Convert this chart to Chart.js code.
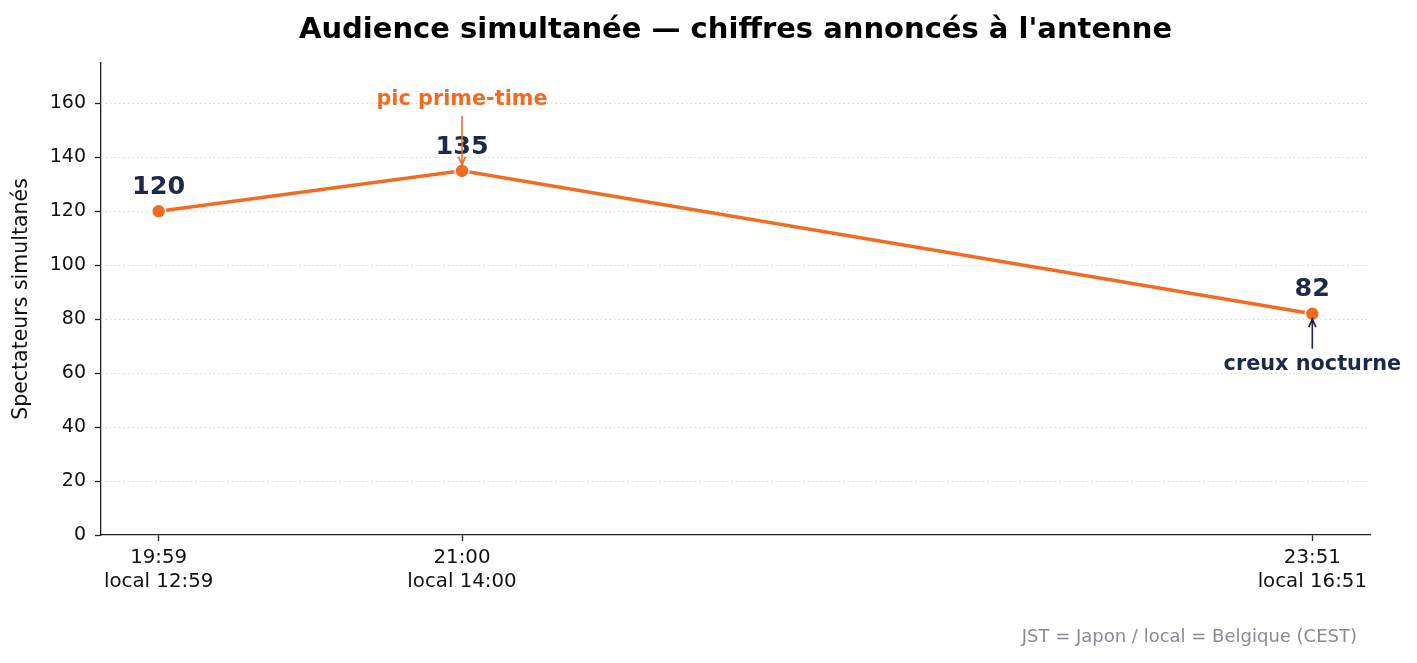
<!DOCTYPE html>
<html>
<head>
<meta charset="utf-8">
<script src="https://cdn.jsdelivr.net/npm/chart.js@4"></script>
<style>
  html, body { margin: 0; padding: 0; background: #fff; }
  #wrap { width: 1417px; height: 663px; }
</style>
</head>
<body>
<div id="wrap"><canvas id="audienceChart" width="1417" height="663"></canvas></div>
<script>
// minutes after 19:59 (JST)
var minutes = [0, 61, 232];
var viewers = [120, 135, 82];
var tickJst = ['19:59', '21:00', '23:51'];
var tickLocal = ['local 12:59', 'local 14:00', 'local 16:51'];
var yTicks = [0, 20, 40, 60, 80, 100, 120, 140, 160];

var FONT = "'DejaVu Sans', sans-serif";
var ORANGE = '#f26b21';
var NAVY = '#1b2a4a';
var AXIS = '#222222';

var extrasPlugin = {
    id: 'extras',
    beforeDatasetsDraw: function (chart) {
        var ctx = chart.ctx;
        var area = chart.chartArea;
        var y = chart.scales.y;
        ctx.save();
        ctx.strokeStyle = '#d6d6d6';
        ctx.lineWidth = 1;
        ctx.setLineDash([1.5, 3]);
        for (var i = 1; i < yTicks.length; i++) {
            var py = Math.round(y.getPixelForValue(yTicks[i])) + 0.5;
            ctx.beginPath();
            ctx.moveTo(area.left, py);
            ctx.lineTo(area.right, py);
            ctx.stroke();
        }
        ctx.restore();
    },
    afterDatasetsDraw: function (chart) {
        var ctx = chart.ctx;
        var area = chart.chartArea;
        var meta = chart.getDatasetMeta(0);
        ctx.save();

        // value labels
        ctx.fillStyle = NAVY;
        ctx.font = 'bold 25.5px ' + FONT;
        ctx.textAlign = 'center';
        ctx.textBaseline = 'middle';
        for (var i = 0; i < viewers.length; i++) {
            var pt = meta.data[i];
            ctx.fillText(String(viewers[i]), pt.x, pt.y - 24);
        }

        // peak annotation
        var peak = meta.data[1];
        ctx.font = 'bold 20.8px ' + FONT;
        ctx.fillStyle = ORANGE;
        ctx.fillText('pic prime-time', peak.x, peak.y - 71);
        drawArrow(ctx, peak.x, peak.y - 55, peak.x, peak.y - 6, ORANGE);

        // trough annotation
        var low = meta.data[2];
        ctx.fillStyle = NAVY;
        ctx.fillText('creux nocturne', low.x, low.y + 51);
        drawArrow(ctx, low.x, low.y + 35, low.x, low.y + 5, NAVY);

        // title
        ctx.fillStyle = '#000';
        ctx.font = 'bold 29px ' + FONT;
        ctx.fillText("Audience simultanée \u2014 chiffres annoncés à l'antenne", (area.left + area.right) / 2, 30);

        // y axis title
        ctx.save();
        ctx.translate(22, (area.top + area.bottom) / 2);
        ctx.rotate(-Math.PI / 2);
        ctx.font = '20.5px ' + FONT;
        ctx.fillStyle = '#111';
        ctx.fillText('Spectateurs simultanés', 0, 0);
        ctx.restore();

        // footnote
        ctx.font = '18px ' + FONT;
        ctx.fillStyle = '#8a8a96';
        ctx.textAlign = 'right';
        ctx.fillText('JST = Japon / local = Belgique (CEST)', 1357, 637);

        ctx.restore();
    }
};

function drawArrow(ctx, x1, y1, x2, y2, color) {
    var ang = Math.atan2(y2 - y1, x2 - x1);
    var head = 9;
    ctx.save();
    ctx.strokeStyle = color;
    ctx.lineWidth = 1.6;
    ctx.beginPath();
    ctx.moveTo(x1, y1);
    ctx.lineTo(x2, y2);
    ctx.moveTo(x2 - head * Math.cos(ang - 0.4), y2 - head * Math.sin(ang - 0.4));
    ctx.lineTo(x2, y2);
    ctx.lineTo(x2 - head * Math.cos(ang + 0.4), y2 - head * Math.sin(ang + 0.4));
    ctx.stroke();
    ctx.restore();
}

var points = [];
for (var i = 0; i < minutes.length; i++) {
    points.push({ x: minutes[i], y: viewers[i] });
}

var ctx = document.getElementById('audienceChart');
var myChart = new Chart(ctx, {
    type: 'line',
    data: {
        datasets: [{
            data: points,
            borderColor: ORANGE,
            borderWidth: 3.5,
            pointRadius: 7,
            pointHoverRadius: 7,
            pointBackgroundColor: ORANGE,
            pointBorderColor: '#ffffff',
            pointBorderWidth: 1.5,
            tension: 0
        }]
    },
    options: {
        responsive: false,
        animation: false,
        devicePixelRatio: 1,
        layout: { padding: { left: 0, right: 47, top: 63, bottom: 0 } },
        plugins: {
            legend: { display: false },
            tooltip: { enabled: false },
            title: { display: false }
        },
        scales: {
            x: {
                type: 'linear',
                min: -11.6,
                max: 243.6,
                afterBuildTicks: function (axis) {
                    axis.ticks = minutes.map(function (m) { return { value: m }; });
                },
                afterFit: function (axis) { axis.height = 128; },
                ticks: {
                    autoSkip: false,
                    maxRotation: 0,
                    color: '#111',
                    font: { family: FONT, size: 19.8 },
                    padding: 5,
                    callback: function (value) {
                        var idx = minutes.indexOf(value);
                        return idx < 0 ? '' : [tickJst[idx], tickLocal[idx]];
                    }
                },
                grid: {
                    drawOnChartArea: false,
                    drawTicks: true,
                    tickLength: 6,
                    tickColor: AXIS,
                    tickWidth: 1.3
                },
                border: { display: true, color: AXIS, width: 1.3 }
            },
            y: {
                min: 0,
                max: 175,
                afterBuildTicks: function (axis) {
                    axis.ticks = yTicks.map(function (v) { return { value: v }; });
                },
                afterFit: function (axis) { axis.width = 101; },
                ticks: {
                    color: '#111',
                    font: { family: FONT, size: 19 },
                    padding: 9
                },
                grid: {
                    drawOnChartArea: false,
                    drawTicks: true,
                    tickLength: 6,
                    tickColor: AXIS,
                    tickWidth: 1.3
                },
                border: { display: true, color: AXIS, width: 1.3 }
            }
        }
    },
    plugins: [extrasPlugin]
});
</script>
</body>
</html>
